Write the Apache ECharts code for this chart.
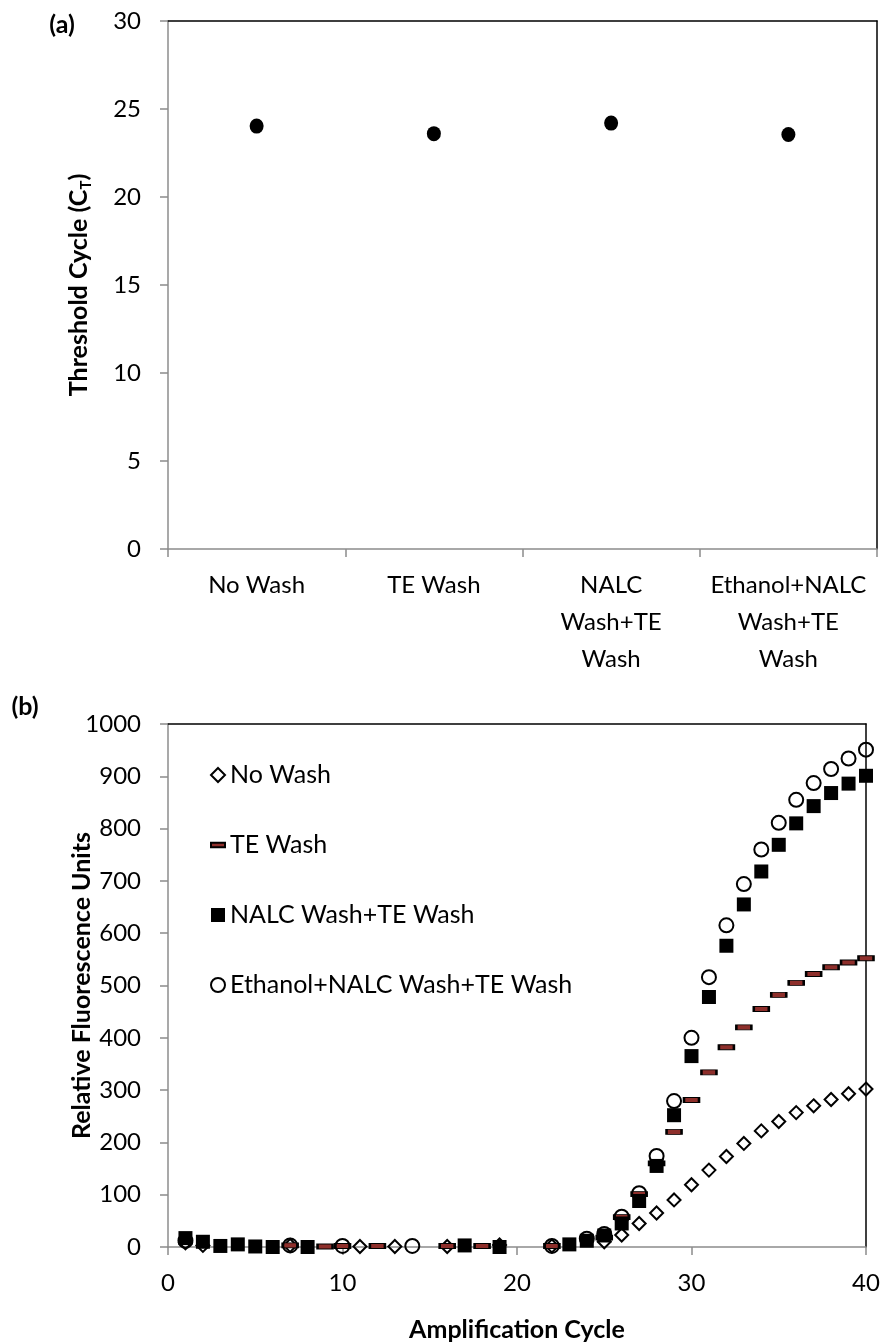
<!DOCTYPE html>
<html>
<head>
<meta charset="utf-8">
<script src="https://cdn.jsdelivr.net/npm/echarts@6/dist/echarts.min.js"></script>
<style>
  html, body { margin: 0; padding: 0; background: #fff; }
  #chart { width: 883px; height: 1344px; }
</style>
</head>
<body>
<div id="chart"></div>
<script>
// ---- panel (a): threshold cycle per wash
const washTypes = ['No Wash', 'TE Wash', 'NALC\nWash+TE\nWash', 'Ethanol+NALC\nWash+TE\nWash'];
const thresholdCycle = [24.03, 23.6, 24.2, 23.55];
const ctMin = 0, ctMax = 30, ctStep = 5;

// ---- panel (b): fluorescence per amplification cycle (null = not shown)
const cycles = [1, 2, 3, 4, 5, 6, 7, 8, 9, 10, 11, 12, 13, 14, 15, 16, 17, 18, 19, 20,
  21, 22, 23, 24, 25, 26, 27, 28, 29, 30, 31, 32, 33, 34, 35, 36, 37, 38, 39, 40];
const noWash = [8, 3, null, null, null, null, 3, null, null, null, 1, null, 1, null, null, 1, null, null, 4, null,
  null, 2, null, null, 10, 23, 45, 65, 90, 119, 147, 173, 198, 222, 240, 257, 270, 282, 293, 302];
const teWash = [null, null, null, null, null, null, 3, null, 1, 2, null, 2, null, null, null, 2, null, 2, null, null,
  null, 2, null, null, 18, 57, 101, 160, 220, 281, 334, 382, 420, 455, 482, 505, 522, 535, 544, 552];
const nalcWash = [17, 10, 2, 5, 1, 0, null, 0, null, null, null, null, null, null, null, null, 3, null, 0, null,
  null, null, 5, 12, 22, 45, 88, 155, 252, 365, 478, 576, 655, 718, 769, 810, 843, 868, 886, 901];
const ethanolWash = [12, null, null, null, null, null, 3, null, null, 2, null, null, null, 2, null, null, null, null, null, null,
  null, 2, null, 16, 25, 58, 103, 174, 279, 400, 516, 615, 694, 760, 811, 855, 887, 914, 934, 951];
const seriesNames = ['No Wash', 'TE Wash', 'NALC Wash+TE Wash', 'Ethanol+NALC Wash+TE Wash'];
const rfuMin = 0, rfuMax = 1000, rfuStep = 100;
const cycleMin = 0, cycleMax = 40, cycleStep = 10;

const FONT = 'Lato';
const grayAxis = { color: '#8c8c8c', width: 1.5 };
const blackEdge = { show: true, onZero: false, lineStyle: { color: '#000', width: 1.5 } };
const tickFont = { fontFamily: FONT, fontSize: 24, color: '#000' };
const titleFont = { fontFamily: FONT, fontSize: 25, fontWeight: 'bold', color: '#000' };

function pairs(vals) {
  return cycles.map((c, i) => [c, vals[i]]).filter(p => p[1] !== null);
}

const myChart = echarts.init(document.getElementById('chart'));

const option = {
  backgroundColor: '#fff',
  animation: false,
  textStyle: { fontFamily: FONT, color: '#000' },
  grid: [
    { left: 168, right: 6, top: 21, height: 528 },
    { left: 168, right: 17, top: 724, height: 523 }
  ],
  graphic: [
    { type: 'text', style: { text: '(a)', x: 62, y: 25, align: 'center', verticalAlign: 'middle',
      fontFamily: FONT, fontSize: 25, fontWeight: 'bold', fill: '#000' } },
    { type: 'text', style: { text: '(b)', x: 25, y: 707, align: 'center', verticalAlign: 'middle',
      fontFamily: FONT, fontSize: 25, fontWeight: 'bold', fill: '#000' } }
  ],
  legend: {
    data: [
      { name: seriesNames[0] },
      { name: seriesNames[1], icon: 'path://M0,0H15V5H0Z' },
      { name: seriesNames[2] },
      { name: seriesNames[3] }
    ],
    orient: 'vertical',
    left: 205,
    top: 755,
    itemWidth: 14,
    itemHeight: 14,
    itemGap: 40,
    selectedMode: false,
    textStyle: { fontFamily: FONT, fontSize: 25, lineHeight: 30, color: '#000' }
  },
  xAxis: [
    {
      gridIndex: 0, type: 'category', data: washTypes, position: 'bottom',
      axisLine: { show: true, onZero: false, lineStyle: grayAxis },
      axisTick: { show: true, length: 8, lineStyle: grayAxis },
      axisLabel: Object.assign({ lineHeight: 37, margin: 18, interval: 0 }, tickFont),
      splitLine: { show: false }
    },
    {
      gridIndex: 0, type: 'category', data: washTypes, position: 'top',
      axisLine: blackEdge, axisTick: { show: false }, axisLabel: { show: false }, splitLine: { show: false }
    },
    {
      gridIndex: 1, type: 'value', min: cycleMin, max: cycleMax, interval: cycleStep, position: 'bottom',
      name: 'Amplification Cycle', nameLocation: 'middle', nameGap: 70, nameMoveOverlap: false,
      nameTextStyle: titleFont,
      axisLine: { show: true, onZero: false, lineStyle: grayAxis },
      axisTick: { show: true, length: 8, lineStyle: grayAxis },
      axisLabel: Object.assign({ margin: 24 }, tickFont),
      splitLine: { show: false }
    },
    {
      gridIndex: 1, type: 'value', min: cycleMin, max: cycleMax, position: 'top',
      axisLine: blackEdge, axisTick: { show: false }, axisLabel: { show: false }, splitLine: { show: false }
    }
  ],
  yAxis: [
    {
      gridIndex: 0, type: 'value', min: ctMin, max: ctMax, interval: ctStep, position: 'left',
      name: 'Threshold Cycle (C{sub|T})', nameLocation: 'middle', nameGap: 74, nameRotate: 90,
      nameMoveOverlap: false,
      nameTextStyle: Object.assign({
        lineHeight: 30,
        rich: { sub: { fontFamily: FONT, fontSize: 15, fontWeight: 'bold', color: '#000', lineHeight: 12, verticalAlign: 'bottom' } }
      }, titleFont),
      axisLine: { show: true, onZero: false, lineStyle: grayAxis },
      axisTick: { show: true, length: 8, lineStyle: grayAxis },
      axisLabel: Object.assign({ margin: 27 }, tickFont),
      splitLine: { show: false }
    },
    {
      gridIndex: 0, type: 'value', min: ctMin, max: ctMax, position: 'right',
      axisLine: blackEdge, axisTick: { show: false }, axisLabel: { show: false }, splitLine: { show: false }
    },
    {
      gridIndex: 1, type: 'value', min: rfuMin, max: rfuMax, interval: rfuStep, position: 'left',
      name: 'Relative Fluorescence Units', nameLocation: 'middle', nameGap: 74, nameRotate: 90,
      nameMoveOverlap: false,
      nameTextStyle: titleFont,
      axisLine: { show: true, onZero: false, lineStyle: grayAxis },
      axisTick: { show: true, length: 8, lineStyle: grayAxis },
      axisLabel: Object.assign({ margin: 27, formatter: v => String(v) }, tickFont),
      splitLine: { show: false }
    },
    {
      gridIndex: 1, type: 'value', min: rfuMin, max: rfuMax, position: 'right',
      axisLine: blackEdge, axisTick: { show: false }, axisLabel: { show: false }, splitLine: { show: false }
    }
  ],
  series: [
    {
      name: 'Threshold Cycle', type: 'scatter', xAxisIndex: 0, yAxisIndex: 0,
      data: thresholdCycle, symbol: 'circle', symbolSize: [14, 15],
      itemStyle: { color: '#000', opacity: 1 }
    },
    {
      name: seriesNames[0], type: 'scatter', xAxisIndex: 2, yAxisIndex: 2,
      data: pairs(noWash), symbol: 'diamond', symbolSize: 13,
      itemStyle: { color: 'rgba(255,255,255,0)', borderColor: '#000', borderWidth: 2, opacity: 1 }
    },
    {
      name: seriesNames[1], type: 'scatter', xAxisIndex: 2, yAxisIndex: 2,
      data: pairs(teWash), symbol: 'rect', symbolSize: [15, 5],
      itemStyle: { color: '#8e2f2b', borderColor: '#000', borderWidth: 1.5, opacity: 1 }
    },
    {
      name: seriesNames[2], type: 'scatter', xAxisIndex: 2, yAxisIndex: 2,
      data: pairs(nalcWash), symbol: 'rect', symbolSize: 14,
      itemStyle: { color: '#000', opacity: 1 }
    },
    {
      name: seriesNames[3], type: 'scatter', xAxisIndex: 2, yAxisIndex: 2,
      data: pairs(ethanolWash), symbol: 'circle', symbolSize: 14,
      itemStyle: { color: 'rgba(255,255,255,0)', borderColor: '#000', borderWidth: 2, opacity: 1 }
    }
  ]
};

myChart.setOption(option);
</script>
</body>
</html>
